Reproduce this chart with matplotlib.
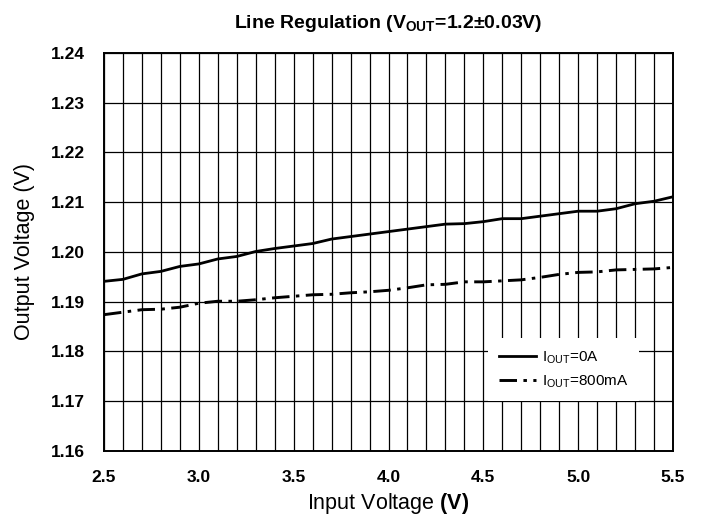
import numpy as np
import matplotlib
matplotlib.use("Agg")
import matplotlib.pyplot as plt
from matplotlib.ticker import MultipleLocator, FormatStrFormatter

plt.rcParams['font.family'] = ['Liberation Sans', 'DejaVu Sans']
plt.rcParams['mathtext.fontset'] = 'custom'
plt.rcParams['mathtext.rm'] = 'Liberation Sans'
plt.rcParams['mathtext.bf'] = 'Liberation Sans:bold'

# input voltage (V)
vin = [2.5, 2.6, 2.7, 2.8, 2.9, 3.0, 3.1, 3.2, 3.3, 3.4, 3.5,
       3.6, 3.7, 3.8, 3.9, 4.0, 4.1, 4.2, 4.3, 4.4, 4.5,
       4.6, 4.7, 4.8, 4.9, 5.0, 5.1, 5.2, 5.3, 5.4, 5.5]
# output voltage, Iout = 0A
vout_0a = [1.1941, 1.1945, 1.1956, 1.1961, 1.1971, 1.1976, 1.1986, 1.1991, 1.2001, 1.2007, 1.2012,
           1.2017, 1.2026, 1.2031, 1.2036, 1.2041, 1.2046, 1.2051, 1.2056, 1.2057, 1.2061,
           1.2067, 1.2067, 1.2072, 1.2077, 1.2082, 1.2082, 1.2087, 1.2097, 1.2102, 1.2111]
# output voltage, Iout = 800mA
vout_800ma = [1.1874, 1.1879, 1.1884, 1.1885, 1.1889, 1.1897, 1.1901, 1.1901, 1.1904, 1.1908, 1.1911,
              1.1914, 1.1915, 1.1918, 1.1920, 1.1923, 1.1928, 1.1934, 1.1935, 1.1940, 1.1940,
              1.1942, 1.1944, 1.1949, 1.1955, 1.1959, 1.1960, 1.1964, 1.1965, 1.1966, 1.1969]

fig = plt.figure(figsize=(7.04, 5.20), dpi=100)
ax = fig.add_axes([0.1477, 0.1327, 0.8083, 0.7654])

ax.plot(vin, vout_0a, color='black', lw=2.0, label=r'I$_{\mathrm{OUT}}$=0A')
ax.plot(vin, vout_800ma, color='black', lw=2.1, dashes=(6, 2.2, 1.2, 2.2),
        label=r'I$_{\mathrm{OUT}}$=800mA')

ax.set_xlim(2.5, 5.5)
ax.set_ylim(1.16, 1.24)
ax.xaxis.set_major_locator(MultipleLocator(0.5))
ax.xaxis.set_minor_locator(MultipleLocator(0.1))
ax.yaxis.set_major_locator(MultipleLocator(0.01))
ax.xaxis.set_major_formatter(FormatStrFormatter('%.1f'))
ax.yaxis.set_major_formatter(FormatStrFormatter('%.2f'))
ax.grid(which='both', color='black', lw=0.9)
ax.set_axisbelow(True)
ax.tick_params(which='both', length=0, labelsize=12.5)
ax.tick_params(axis='y', pad=14)
ax.tick_params(axis='x', pad=14)
for lab in ax.get_xticklabels() + ax.get_yticklabels():
    lab.set_fontweight('bold')
for sp in ax.spines.values():
    sp.set_linewidth(1.4)

ax.set_xlabel(r'Input Voltage $\mathbf{(V)}$', fontsize=15.5, labelpad=4)
ax.set_ylabel('Output Voltage (V)', fontsize=15.5, labelpad=11)
ax.set_title(r'Line Regulation (V$_{\mathbf{OUT}}$=1.2±0.03V)', fontsize=14,
             fontweight='bold', pad=18)

leg = ax.legend(loc='lower right', bbox_to_anchor=(0.94, 0.126), borderaxespad=0,
                fontsize=11, handlelength=2.4, frameon=True, fancybox=False,
                framealpha=1, edgecolor='none', borderpad=0.7, labelspacing=0.5,
                handletextpad=0.4)
leg.get_frame().set_facecolor('white')

fig.savefig('out.png', dpi=100)
